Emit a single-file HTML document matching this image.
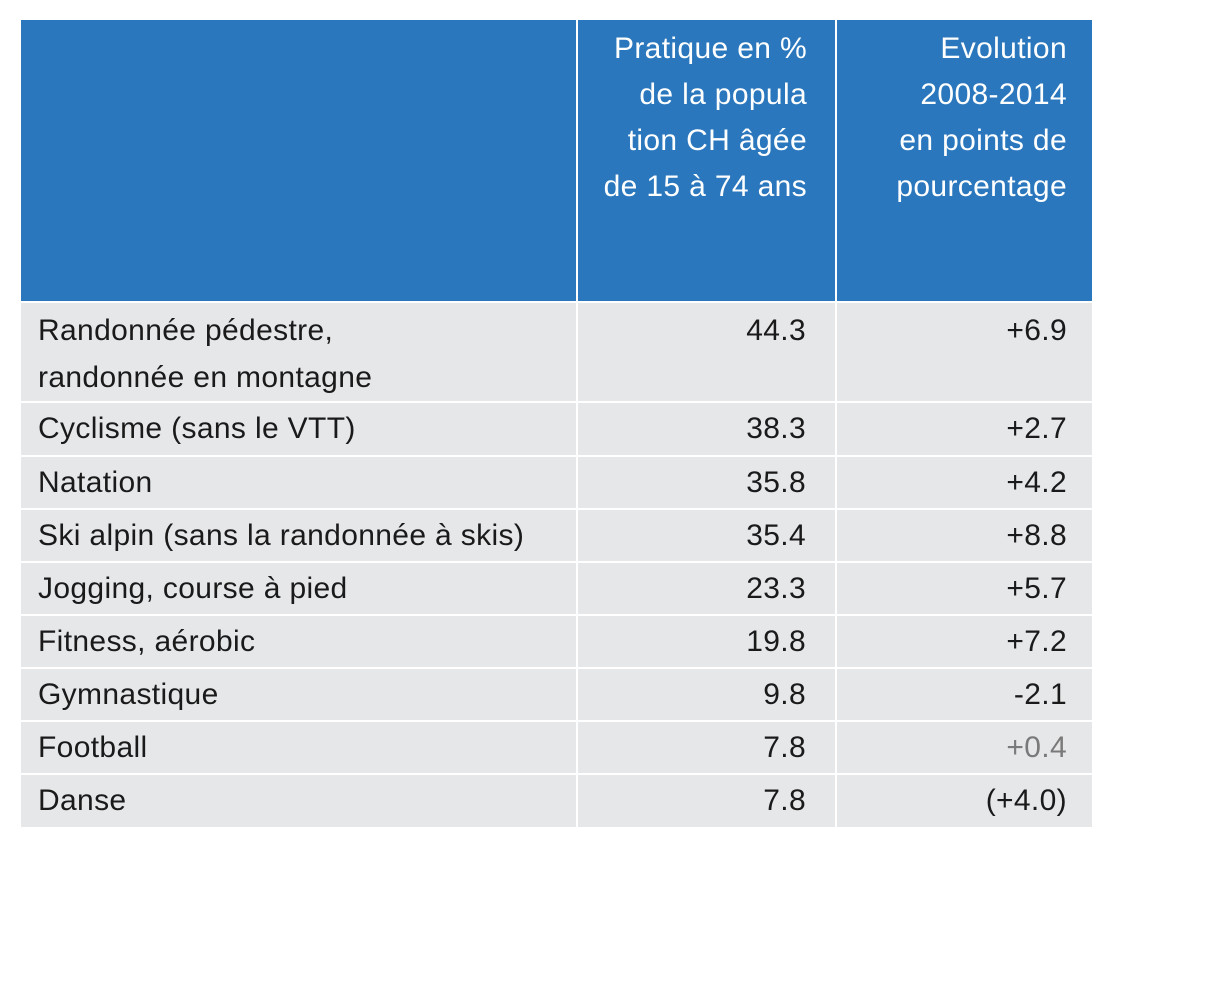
<!DOCTYPE html>
<html><head><meta charset="utf-8">
<style>
body{margin:0;width:1220px;height:988px;background:#fff;position:relative;font-family:"Liberation Sans",sans-serif;overflow:hidden}
.c{position:absolute;box-sizing:border-box;font-size:30px;letter-spacing:0.35px;color:#1a1a1a}
.h{background:#2a77bd;color:#fff;text-align:right;line-height:46px;padding-top:6px}
.r{background:#e6e7e9;display:flex;align-items:center}
.l{padding-left:17px}
.n{justify-content:flex-end}
.n2{padding-right:29px}
.n3{padding-right:25px}
</style></head><body>
<div>
<div class="c h" style="left:21px;top:20px;width:555px;height:281px"></div>
<div class="c h" style="left:578px;top:20px;width:257px;height:281px;padding-right:28px">Pratique en %<br>de la popula<br>tion CH âgée<br>de 15 à 74 ans</div>
<div class="c h" style="left:837px;top:20px;width:255px;height:281px;padding-right:25px">Evolution<br>2008-2014<br>en points de<br>pourcentage</div>
</div>
<script>
const sports=["Randonnée pédestre,<br>randonnée en montagne","Cyclisme (sans le VTT)","Natation","Ski alpin (sans la randonnée à skis)","Jogging, course à pied","Fitness, aérobic","Gymnastique","Football","Danse"];
const practice=["44.3","38.3","35.8","35.4","23.3","19.8","9.8","7.8","7.8"];
const evolution=["+6.9","+2.7","+4.2","+8.8","+5.7","+7.2","-2.1","+0.4","(+4.0)"];
const tops=[303,403,457,510,563,616,669,722,775];
const heights=[98,52,51,51,51,51,51,51,52];
const root=document.body;
for(let i=0;i<sports.length;i++){
 const t=tops[i],h=heights[i];
 const mk=(cls,left,w,html,name)=>{
  const d=document.createElement('div');
  d.className='c r '+cls;
  d.style.left=left+'px';d.style.top=t+'px';d.style.width=w+'px';d.style.height=h+'px';
  if(i===0){d.style.alignItems='flex-start';d.style.paddingTop='4px';d.style.lineHeight='47px';}
  d.innerHTML=html;
  
  
  root.appendChild(d);return d;
 };
 mk('l',21,555,sports[i],'sport-name');
 mk('n n2',578,257,practice[i],'practice-value');
 const e=mk('n n3',837,255,evolution[i],'evolution-value');
 if(evolution[i]==='+0.4')e.style.color='#7a7a7a';
}
</script>
</body></html>
